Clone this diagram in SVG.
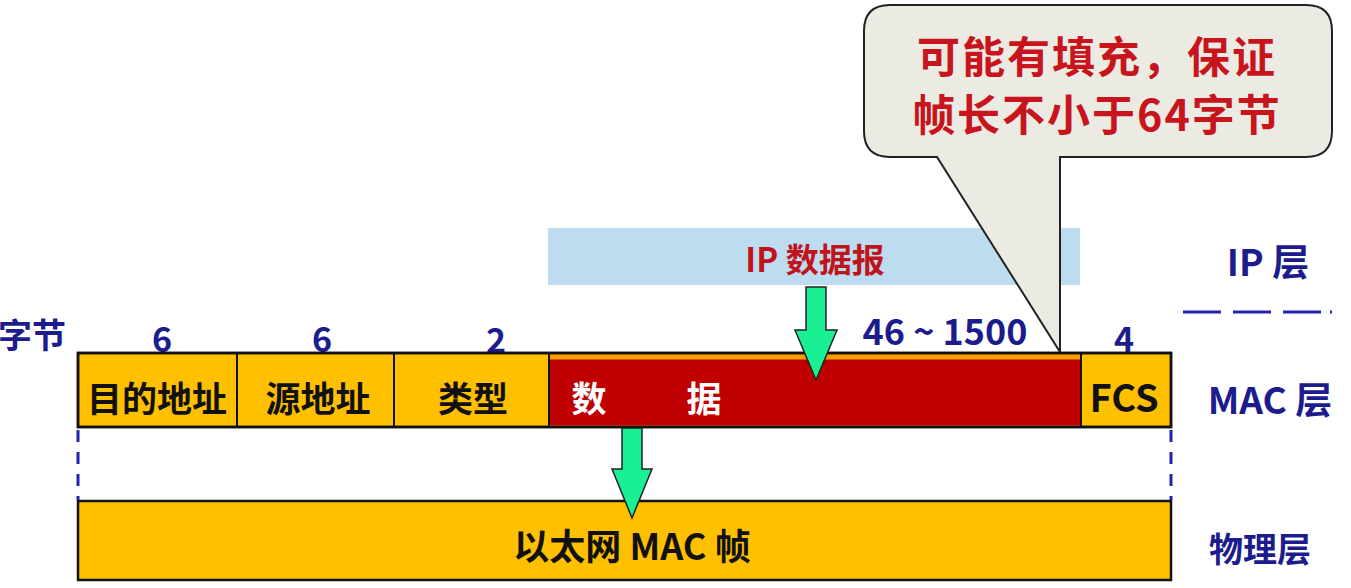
<svg xmlns="http://www.w3.org/2000/svg" width="1351" height="588" viewBox="0 0 1351 588">
<style>
text{font-family:"Noto Sans CJK SC","Noto Sans",sans-serif;font-weight:bold;text-anchor:middle;dominant-baseline:central}
.blue{fill:#1c1c8c;font-size:34px}
.fld{fill:#111;font-size:35px}
.box{stroke:#111;stroke-width:2.5}
.arrow{fill:#19f093;stroke:#222;stroke-width:1.5}
.dash{stroke:#2323b0;stroke-width:3;stroke-dasharray:12 10;fill:none}
</style>
<rect width="1351" height="588" fill="#fff"/>
<g id="ip-datagram">
<rect x="548" y="228" width="532" height="57" fill="#bedcf0"/>
<text x="815" y="258" style="fill:#c0141c;font-size:33px">IP 数据报</text>
</g>
<g id="callout">
<path d="M890 5 H1306 Q1332 5 1332 31 V131 Q1332 157 1306 157 H1060 V352 L937 157 H890 Q864 157 864 131 V31 Q864 5 890 5 Z" fill="#ebebe3" stroke="#222" stroke-width="2"/>
<text x="1097" y="54" style="fill:#c8141c;font-size:43px;letter-spacing:2px">可能有填充，保证</text>
<text x="1097" y="112" style="fill:#c8141c;font-size:43px;letter-spacing:2px">帧长不小于64字节</text>
</g>
<g id="labels">
<text x="32" y="333" class="blue">字节</text>
<text x="162" y="337" class="blue">6</text>
<text x="322" y="337" class="blue">6</text>
<text x="496" y="338" class="blue">2</text>
<text x="945" y="329" class="blue" style="font-size:36px">46 ~ 1500</text>
<text x="1124" y="337" class="blue">4</text>
<text x="1268" y="260" class="blue" style="font-size:37px">IP 层</text>
<text x="1270" y="398" class="blue" style="font-size:37px">MAC 层</text>
<text x="1260" y="547" class="blue">物理层</text>
</g>
<g id="mac-frame">
<rect x="78" y="353" width="1093" height="74" fill="#ffc000" class="box"/>
<rect x="549" y="354.5" width="532" height="71" fill="#c00000"/>
<rect x="549" y="354.5" width="532" height="5" fill="#f5a000"/>
<line x1="237" y1="353" x2="237" y2="427" stroke="#111" stroke-width="2"/>
<line x1="394" y1="353" x2="394" y2="427" stroke="#111" stroke-width="2"/>
<line x1="549" y1="353" x2="549" y2="427" stroke="#111" stroke-width="2"/>
<line x1="1081" y1="353" x2="1081" y2="427" stroke="#111" stroke-width="2"/>
<rect x="78" y="353" width="1093" height="74" fill="none" class="box"/>
<text x="157" y="396" class="fld">目的地址</text>
<text x="318" y="396" class="fld">源地址</text>
<text x="473" y="396" class="fld">类型</text>
<text x="589" y="396" class="fld" style="fill:#fff">数</text>
<text x="704" y="396" class="fld" style="fill:#fff">据</text>
<text x="1124" y="395" class="fld" style="font-size:38px">FCS</text>
</g>
<g id="physical-frame">
<rect x="78" y="501" width="1093" height="79" fill="#ffc000" class="box"/>
<text x="632" y="544" class="fld" style="font-size:36px">以太网 MAC 帧</text>
</g>
<g id="connectors">
<path class="arrow" d="M806 287 H826 V330 H837 L816 380 L795 330 H806 Z"/>
<path class="arrow" d="M622 428 H642 V469 H652 L632 518 L612 469 H622 Z"/>
<line class="dash" x1="78" y1="430" x2="78" y2="500"/>
<line class="dash" x1="1171" y1="430" x2="1171" y2="500"/>
<line class="dash" x1="1183" y1="312" x2="1332" y2="312" style="stroke-dasharray:38 12 38 12 38 9 2 20"/>
</g>
</svg>
